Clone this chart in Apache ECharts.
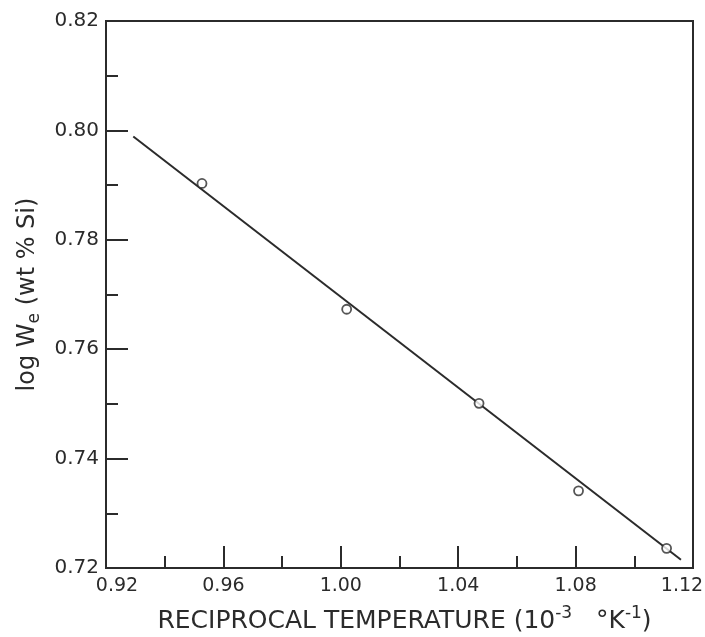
<!DOCTYPE html>
<html>
<head>
<meta charset="utf-8">
<script src="https://cdn.jsdelivr.net/npm/echarts@6/dist/echarts.min.js"></script>
<style>
	html, body { margin: 0; padding: 0; background: #fff; }
	#chart { width: 705px; height: 637px; }
</style>
</head>
<body>
<div id="chart"></div>
<script>
// measured points (reciprocal temperature, log We)
const recipTemp = [0.9527, 1.0020, 1.0471, 1.0810, 1.1110];
const logWe = [0.7903, 0.7673, 0.7501, 0.7341, 0.7236];
// fitted line end points
const fitX = [0.9293, 1.1159];
const fitY = [0.7989, 0.7215];

const ink = '#2b2b2b';
const font = '"DejaVu Sans", "Liberation Sans", sans-serif';

let chart = echarts.init(document.getElementById('chart'));

let option = {
	animation: false,
	backgroundColor: '#fff',
	grid: {
		left: 106,
		top: 21,
		right: 12,
		bottom: 69,
		outerBoundsMode: 'none',
		containLabel: false,
		show: true,
		borderColor: ink,
		borderWidth: 2
	},
	xAxis: {
		type: 'value',
		min: 0.92,
		max: 1.12,
		interval: 0.04,
		name: '{t|RECIPROCAL TEMPERATURE (10}{s|-3}{t|   °K}{s|-1}{t|)}',
		nameLocation: 'middle',
		nameGap: 37,
		nameTextStyle: {
			padding: [0, 0, 0, 10],
			rich: {
				t: { fontFamily: font, fontSize: 25, lineHeight: 33, color: ink },
				s: { fontFamily: font, fontSize: 17, lineHeight: 17, color: ink, verticalAlign: 'top' }
			}
		},
		axisLine: { lineStyle: { color: ink, width: 2 } },
		axisTick: { inside: true, length: 22, lineStyle: { color: ink, width: 2 } },
		minorTick: { show: true, splitNumber: 2, length: 12, lineStyle: { color: ink, width: 2 } },
		splitLine: { show: false },
		axisLabel: {
			margin: 9,
			fontFamily: font,
			fontSize: 19,
			color: ink,
			formatter: function(v) {
				let s = v.toFixed(2);
				if (s === '0.92') return '{first|' + s + '}';
				if (s === '1.12') return '{last|' + s + '}';
				return s;
			},
			rich: {
				first: { fontFamily: font, fontSize: 19, color: ink, padding: [0, 0, 0, 22] },
				last: { fontFamily: font, fontSize: 19, color: ink, padding: [0, 22, 0, 0] }
			}
		}
	},
	yAxis: {
		type: 'value',
		min: 0.72,
		max: 0.82,
		interval: 0.02,
		name: '{t|log W}{sub|e}{t| (wt % Si)}',
		nameLocation: 'middle',
		nameGap: 62,
		nameRotate: 90,
		nameTextStyle: {
			rich: {
				t: { fontFamily: font, fontSize: 24, lineHeight: 32, color: ink },
				sub: { fontFamily: font, fontSize: 17, lineHeight: 17, color: ink, verticalAlign: 'bottom' }
			}
		},
		axisLine: { lineStyle: { color: ink, width: 2 } },
		axisTick: { inside: true, length: 22, lineStyle: { color: ink, width: 2 } },
		minorTick: { show: true, splitNumber: 2, length: 12, lineStyle: { color: ink, width: 2 } },
		splitLine: { show: false },
		axisLabel: {
			margin: 7,
			fontFamily: font,
			fontSize: 20,
			color: ink,
			formatter: v => v.toFixed(2)
		}
	},
	series: [
		{
			type: 'line',
			data: fitX.map((x, i) => [x, fitY[i]]),
			showSymbol: false,
			lineStyle: { color: ink, width: 2 },
			z: 2
		},
		{
			type: 'scatter',
			data: recipTemp.map((x, i) => [x, logWe[i]]),
			symbol: 'circle',
			symbolSize: 9,
			itemStyle: { color: '#fff', borderColor: ink, borderWidth: 1.8 },
			z: 3
		}
	]
};

chart.setOption(option);
</script>
</body>
</html>
